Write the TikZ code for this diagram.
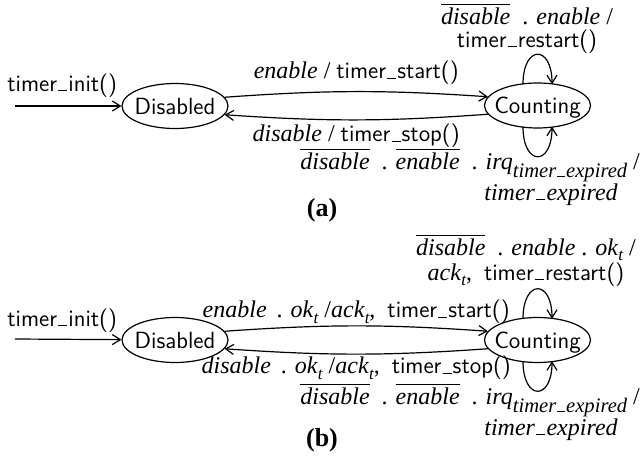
\documentclass[tikz,border=0pt]{standalone}
\usepackage{amsmath}
\usepackage{fontspec}
\setmainfont{Liberation Serif}
\usetikzlibrary{arrows.meta,shapes.geometric,calc}

% low underscore bar used in identifiers
\newcommand\usc{\leavevmode\kern.05em\vbox{\hrule width.38em height .45pt}\kern.05em}
% negated signal
\newcommand\negsig[1]{$\overline{\textit{#1}}$}
% lowered subscripts
\newcommand\sub[1]{\raisebox{-.3em}{\fontsize{10.3}{10}\selectfont\itshape #1}}
\newcommand\tsub{\raisebox{-.22em}{\fontsize{8.5}{8}\selectfont\itshape t}}
% function names in sans
\newcommand\fn[1]{{\fontsize{11.7}{11.5}\selectfont\sffamily #1}}

\begin{document}
\begin{tikzpicture}[x=0.5pt,y=0.5pt,
  every node/.style={font=\fontsize{12}{11.5}\selectfont},
  statebox/.style={ellipse,draw,line width=0.6pt,inner sep=0pt,
    minimum width=53pt,minimum height=22.5pt,text height=8pt,text depth=0pt,
    font=\fontsize{11.7}{14}\selectfont\sffamily},
  arr/.style={-{Straight Barb[length=4pt,width=5pt]},line width=0.6pt},
  lbl/.style={inner sep=0pt,align=center},
  captext/.style={inner sep=0pt,font=\fontsize{13}{15}\selectfont\bfseries}]
\useasboundingbox (0,-460) rectangle (642,0);

% self-loops above and below a state (legs 29 units apart)
\newcommand\looptop[1]{\draw[arr] ($(#1)+(-14.5,21.2)$) .. controls ($(#1)+(-14.5,61)$) and ($(#1)+(14.5,61)$) .. ($(#1)+(14.5,21.2)$);}
\newcommand\loopbot[1]{\draw[arr] ($(#1)+(-14.5,-21.2)$) .. controls ($(#1)+(-14.5,-61)$) and ($(#1)+(14.5,-61)$) .. ($(#1)+(14.5,-21.2)$);}

% ---------- (a) ----------
\node[statebox] (d1) at (175,-106) {\makebox[0pt]{Disabled}};
\node[statebox] (c1) at (537.5,-105.5) {\makebox[0pt]{Counting}};
\coordinate (i1) at (15,-106);
\node[lbl,anchor=base west] (t1) at (7,-91) {\fn{timer\usc init()}};
\draw[arr] (i1) -- (d1);

\draw[arr] (d1.10) to[bend left=4]
  node[midway,above=0pt] (e1) {\textit{enable} / \fn{timer\usc start()}} (c1.170);
\draw[arr] (c1.190) to[bend left=4]
  node[midway,below=-1.5pt] (e2) {\textit{disable} / \fn{timer\usc stop()}} (d1.350);

\looptop{c1}
\loopbot{c1}

\node[lbl] (r1) at (527,-28) {\negsig{disable}\ \ . \textit{enable} /\\ \fn{timer\usc restart()}};
\node[lbl,align=left,anchor=north west] (x1) at (300,-148)
  {\negsig{disable}\ \ . \negsig{enable}\ \ . \textit{irq}\sub{timer\usc expired} /\\
   \hspace*{92pt}\textit{timer\usc expired}};
\node[captext] (ca) at (322,-210) {(a)};

% ---------- (b) ----------
\node[statebox] (d2) at (175,-340) {\makebox[0pt]{Disabled}};
\node[statebox] (c2) at (537.5,-340) {\makebox[0pt]{Counting}};
\coordinate (i2) at (15,-339);
\node[lbl,anchor=base west] (t2) at (7,-326) {\fn{timer\usc init()}};
\draw[arr] (i2) -- (d2);

\draw[arr] (d2.10) to[bend left=4]
  node[midway,above=-2.5pt] (e3) {\textit{enable}\, . \textit{ok}\tsub\ /\textit{ack}\tsub,\ \ \fn{timer\usc start()}} (c2.170);
\draw[arr] (c2.190) to[bend left=4]
  node[midway,below=-2.5pt] (e4) {\textit{disable}\, . \textit{ok}\tsub\ /\textit{ack}\tsub,\ \ \fn{timer\usc stop()}} (d2.350);

\looptop{c2}
\loopbot{c2}

\node[lbl,font=\fontsize{12}{12.5}\selectfont] (r2) at (526,-260) {\negsig{disable}\ \ . \textit{enable} . \textit{ok}\tsub\ /\\ \textit{ack}\tsub,\ \ \fn{timer\usc restart()}};
\node[lbl,align=left,anchor=north west] (x2) at (300,-383)
  {\negsig{disable}\ \ . \negsig{enable}\ \ . \textit{irq}\sub{timer\usc expired} /\\
   \hspace*{92pt}\textit{timer\usc expired}};
\node[captext] (cb) at (322,-440) {(b)};
\end{tikzpicture}
\end{document}
